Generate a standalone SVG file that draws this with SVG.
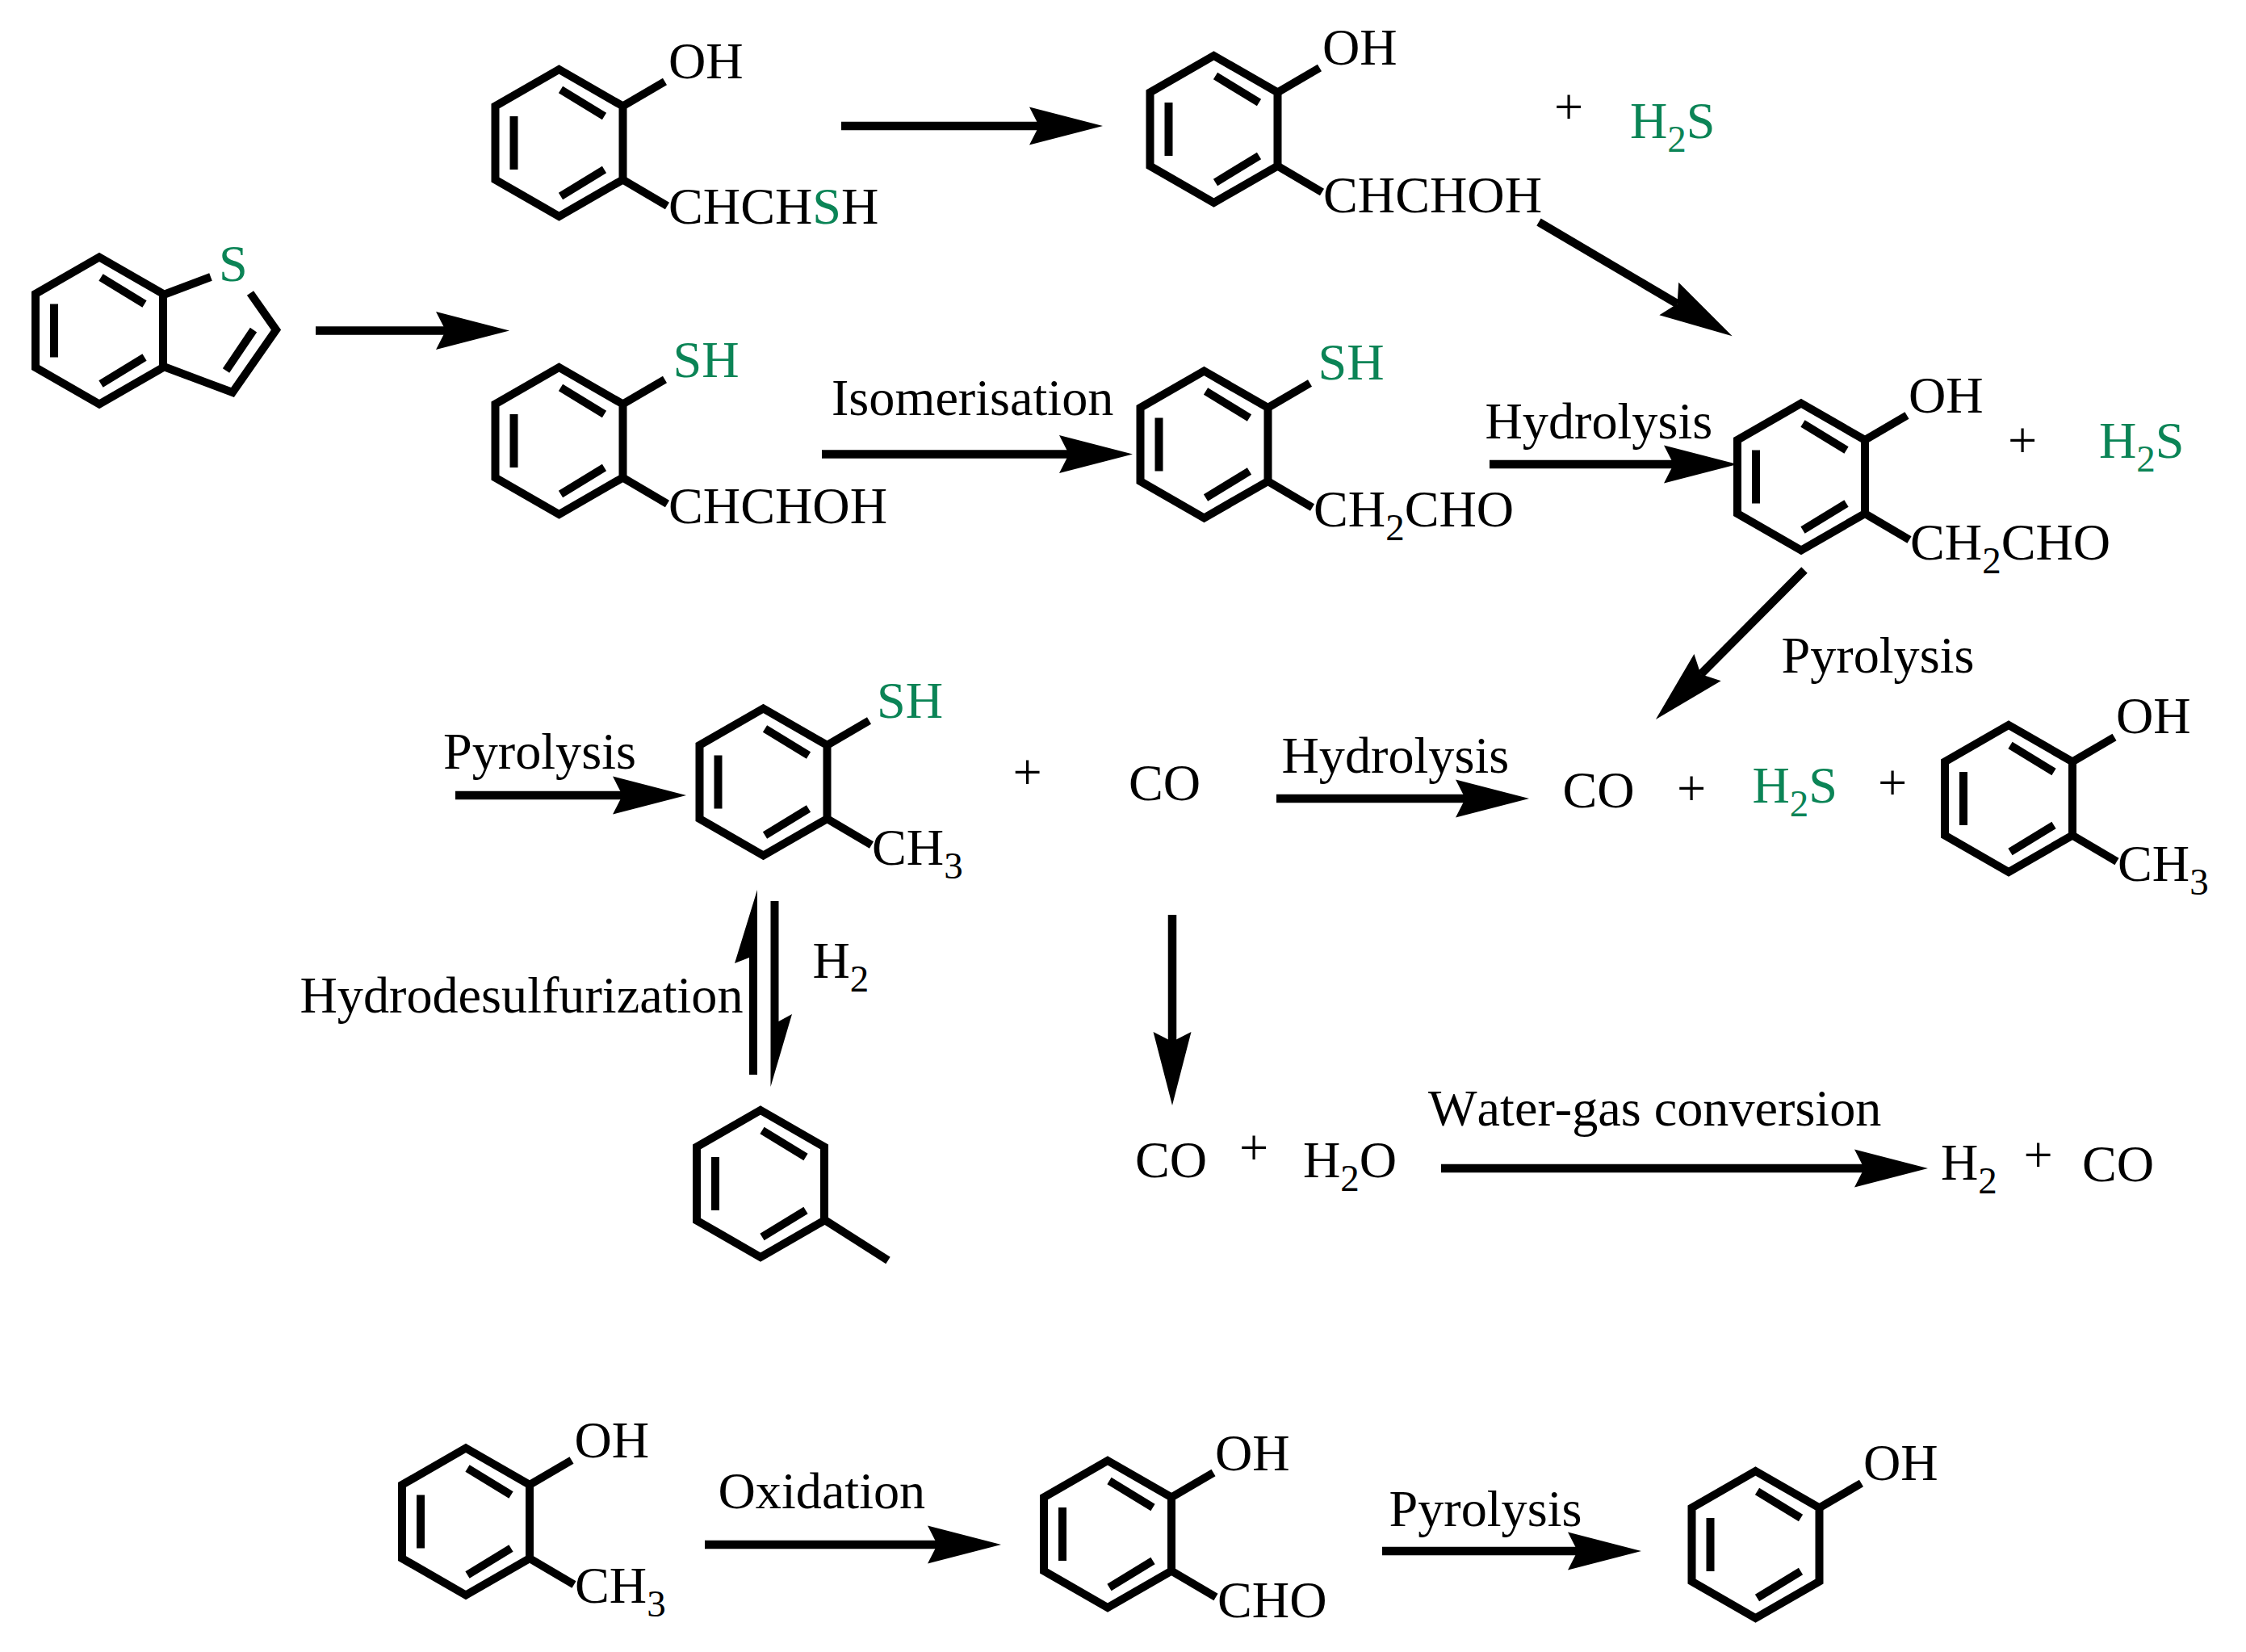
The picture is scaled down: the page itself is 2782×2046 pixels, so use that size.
<svg xmlns="http://www.w3.org/2000/svg" width="2782" height="2046" viewBox="0 0 2782 2046">
<style>
text{font-family:"Liberation Serif","Times New Roman",serif;font-size:64.2px;font-kerning:none;fill:#000}
.g{fill:#0b8456}
.s{font-size:47px}
.b{fill:none;stroke:#000;stroke-width:10;stroke-linejoin:miter;stroke-miterlimit:10;stroke-linecap:butt}
.a{fill:none;stroke:#000;stroke-width:10.5}
.h{fill:#000}
.p{text-anchor:middle}
</style>
<defs>
<marker id="head" markerUnits="userSpaceOnUse" markerWidth="95" markerHeight="52" refX="12" refY="26" orient="auto">
<path d="M0,2.5 L91,26 L0,49.5 L12,26 Z" fill="#000"/>
</marker>
<g id="ring"><path class="b" d="M0,-91 L79,-45.5 V45.5 L0,91 L-79,45.5 V-45.5 Z"/><path class="b" d="M2,-66 L56,-33 M-56,-33 V33 M56,33 L2,66"/></g>
<path id="up" class="b" d="M78,-45 L131,-76"/>
<path id="lo" class="b" d="M78,45 L134,78"/>
</defs>
<rect width="2782" height="2046" fill="#fff"/>
<g id="benzothiophene"><use href="#ring" x="123" y="409.5"/><path class="b" d="M200,366 L261,343 M310,363 L342,408.6 L288,486 L200,453 M314,408.6 L280,459"/><text class="g" x="271" y="347.5">S</text></g>
<g id="m-oh-chchsh"><use href="#ring" x="692.5" y="177"/><use href="#up" x="692.5" y="177"/><use href="#lo" x="692.5" y="177"/><text x="828" y="96.5">OH</text><text x="828" y="277">CHCH<tspan class="g">S</tspan>H</text></g>
<g id="m-oh-chchoh"><use href="#ring" x="1503.5" y="160"/><use href="#up" x="1503.5" y="160"/><use href="#lo" x="1503.5" y="160"/><text x="1638" y="80">OH</text><text x="1639" y="262.5">CHCHOH</text></g>
<g id="plus-1"><text class="p" x="1943" y="154">+</text></g>
<g id="h2s-1"><text class="g" x="2019" y="171">H<tspan class="s" dy="17">2</tspan><tspan dy="-17">S</tspan></text></g>
<g id="m-sh-chchoh"><use href="#ring" x="692.5" y="546"/><use href="#up" x="692.5" y="546"/><use href="#lo" x="692.5" y="546"/><text class="g" x="833.5" y="466.5">SH</text><text x="828" y="648">CHCHOH</text></g>
<g id="m-sh-ch2cho"><use href="#ring" x="1491.5" y="550.5"/><use href="#up" x="1491.5" y="550.5"/><use href="#lo" x="1491.5" y="550.5"/><text class="g" x="1632.5" y="470">SH</text><text x="1627" y="652">CH<tspan class="s" dy="17">2</tspan><tspan dy="-17">CHO</tspan></text></g>
<g id="m-oh-ch2cho"><use href="#ring" x="2231" y="590.5"/><use href="#up" x="2231" y="590.5"/><use href="#lo" x="2231" y="590.5"/><text x="2364" y="510.5">OH</text><text x="2366" y="693">CH<tspan class="s" dy="17">2</tspan><tspan dy="-17">CHO</tspan></text></g>
<g id="plus-2"><text class="p" x="2505" y="567">+</text></g>
<g id="h2s-2"><text class="g" x="2600" y="567">H<tspan class="s" dy="17">2</tspan><tspan dy="-17">S</tspan></text></g>
<g id="m-sh-ch3"><use href="#ring" x="945.5" y="968.5"/><use href="#up" x="945.5" y="968.5"/><use href="#lo" x="945.5" y="968.5"/><text class="g" x="1086" y="889">SH</text><text x="1080" y="1071">CH<tspan class="s" dy="17">3</tspan></text></g>
<g id="plus-3"><text class="p" x="1272.5" y="978">+</text></g>
<g id="co-1"><text x="1398" y="991">CO</text></g>
<g id="co-2"><text x="1935.5" y="999.5">CO</text></g>
<g id="plus-4"><text class="p" x="2095" y="998">+</text></g>
<g id="h2s-3"><text class="g" x="2170.5" y="994">H<tspan class="s" dy="17">2</tspan><tspan dy="-17">S</tspan></text></g>
<g id="plus-5"><text class="p" x="2344" y="991">+</text></g>
<g id="m-oh-ch3"><use href="#ring" x="2488" y="989"/><use href="#up" x="2488" y="989"/><use href="#lo" x="2488" y="989"/><text x="2621" y="908">OH</text><text x="2623" y="1091">CH<tspan class="s" dy="17">3</tspan></text></g>
<g id="toluene"><use href="#ring" x="942" y="1466"/><path class="b" d="M1020,1510 L1100,1561"/></g>
<g id="co-3"><text x="1406" y="1458">CO</text></g>
<g id="plus-6"><text class="p" x="1553" y="1443">+</text></g>
<g id="h2o"><text x="1614" y="1457.5">H<tspan class="s" dy="17">2</tspan><tspan dy="-17">O</tspan></text></g>
<g id="h2"><text x="2404" y="1461">H<tspan class="s" dy="17">2</tspan></text></g>
<g id="plus-7"><text class="p" x="2524.5" y="1452">+</text></g>
<g id="co-4"><text x="2579" y="1463">CO</text></g>
<g id="m-oh-ch3-b"><use href="#ring" x="577" y="1884.5"/><use href="#up" x="577" y="1884.5"/><use href="#lo" x="577" y="1884.5"/><text x="711.5" y="1805">OH</text><text x="712" y="1985">CH<tspan class="s" dy="17">3</tspan></text></g>
<g id="m-oh-cho"><use href="#ring" x="1372" y="1900"/><use href="#up" x="1372" y="1900"/><use href="#lo" x="1372" y="1900"/><text x="1505" y="1821">OH</text><text x="1508" y="2002.5">CHO</text></g>
<g id="phenol"><use href="#ring" x="2174.5" y="1913"/><use href="#up" x="2174.5" y="1913"/><text x="2308" y="1833">OH</text></g>
<g id="labels">
<text x="1030" y="514">Isomerisation</text>
<text x="1839.5" y="542.5">Hydrolysis</text>
<text x="2206.5" y="832.5">Pyrolysis</text>
<text x="549" y="952">Pyrolysis</text>
<text x="1587.5" y="956.5">Hydrolysis</text>
<text x="371.5" y="1254">Hydrodesulfurization</text>
<text x="1006.5" y="1210.5">H<tspan class="s" dy="17">2</tspan></text>
<text x="1769" y="1394">Water-gas conversion</text>
<text x="889.5" y="1868">Oxidation</text>
<text x="1720.5" y="1889.5">Pyrolysis</text>
</g>
<g id="connectors">
<path class="a" marker-end="url(#head)" d="M391,409.6 H552"/>
<path class="a" marker-end="url(#head)" d="M1042,156 H1287"/>
<path class="a" marker-end="url(#head)" d="M1018,562.4 H1324"/>
<path class="a" marker-end="url(#head)" d="M1906,275 L2077.6,376.2"/>
<path class="a" marker-end="url(#head)" d="M1845,575 H2073"/>
<path class="a" marker-end="url(#head)" d="M2235,706 L2106.6,835.1"/>
<path class="a" marker-end="url(#head)" d="M564,985 H771"/>
<path class="a" marker-end="url(#head)" d="M1452,1133 V1290"/>
<path class="a" marker-end="url(#head)" d="M1581,989 H1815"/>
<path class="a" marker-end="url(#head)" d="M1785,1447 H2309"/>
<path class="a" marker-end="url(#head)" d="M873,1913 H1161"/>
<path class="a" marker-end="url(#head)" d="M1712,1921 H1954"/>
<path class="h" d="M938,1331 H928 V1186 L910,1193 L938,1102 Z"/>
<path class="h" d="M954.5,1116 H964.5 V1265 L981,1256 L954.5,1346 Z"/>
</g>
</svg>
